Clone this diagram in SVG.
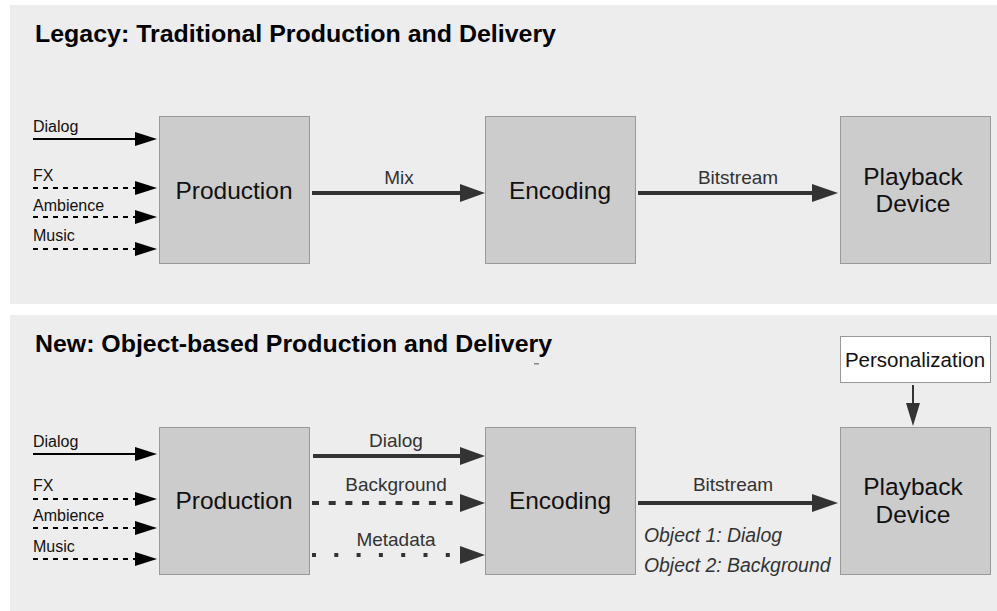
<svg xmlns="http://www.w3.org/2000/svg" width="997" height="611" viewBox="0 0 997 611">
<style>
.panel{fill:#ededed}
.box{fill:#cccccc;stroke:#999999;stroke-width:1}
.wbox{fill:#ffffff;stroke:#999999;stroke-width:1}
.title{font-family:"Liberation Sans",Arial,sans-serif;font-weight:bold;font-size:23px;fill:#000}
.node{font-family:"Liberation Sans",Arial,sans-serif;font-size:24.5px;fill:#111;text-anchor:middle}
.inlab{font-family:"Liberation Sans",Arial,sans-serif;font-size:16px;fill:#111}
.clab{font-family:"Liberation Sans",Arial,sans-serif;font-size:19px;fill:#333;text-anchor:middle}
.obj{font-family:"Liberation Sans",Arial,sans-serif;font-size:19.4px;font-style:italic;fill:#333}
.in{stroke:#000;stroke-width:2;fill:none}
.dash{stroke-dasharray:5 5}
.main{stroke:#333;stroke-width:4;fill:none}
.bg{stroke-dasharray:7 9.7}
.dot{stroke-dasharray:4 18.3}
.headb{fill:#000}
.headm{fill:#333}
</style>
<rect x="0" y="0" width="997" height="611" fill="#ffffff"/>
<rect class="panel" x="10" y="5" width="987" height="299"/>
<rect class="panel" x="10" y="315" width="987" height="296"/>
<text class="title" x="35" y="42" textLength="521" lengthAdjust="spacingAndGlyphs">Legacy: Traditional Production and Delivery</text>
<text class="title" x="35" y="352" textLength="517" lengthAdjust="spacingAndGlyphs">New: Object-based Production and Delivery</text>
<rect x="534" y="363" width="5" height="1.5" fill="#888888"/>

<g id="connectors">
  <line class="in" x1="33" y1="139" x2="137" y2="139"/>
  <polygon class="headb" points="135,132 157,139 135,146"/>
  <line class="in dash" x1="33" y1="188" x2="137" y2="188"/>
  <polygon class="headb" points="135,181 157,188 135,195"/>
  <line class="in dash" x1="33" y1="217" x2="137" y2="217"/>
  <polygon class="headb" points="135,210 157,217 135,224"/>
  <line class="in dash" x1="33" y1="249" x2="137" y2="249"/>
  <polygon class="headb" points="135,242 157,249 135,256"/>
  <line class="main" x1="312" y1="193" x2="462" y2="193"/>
  <polygon class="headm" points="460,184 485,193 460,202"/>
  <line class="main" x1="638" y1="193" x2="815" y2="193"/>
  <polygon class="headm" points="812,184 838,193 812,202"/>
  <line class="in" x1="33" y1="454" x2="137" y2="454"/>
  <polygon class="headb" points="135,447 157,454 135,461"/>
  <line class="in dash" x1="33" y1="499" x2="137" y2="499"/>
  <polygon class="headb" points="135,492 157,499 135,506"/>
  <line class="in dash" x1="33" y1="528" x2="137" y2="528"/>
  <polygon class="headb" points="135,521 157,528 135,535"/>
  <line class="in dash" x1="33" y1="559" x2="137" y2="559"/>
  <polygon class="headb" points="135,552 157,559 135,566"/>
  <line class="main" x1="313" y1="456" x2="462" y2="456"/>
  <polygon class="headm" points="460,447 485,456 460,465"/>
  <line class="main bg" x1="312" y1="503" x2="458" y2="503"/>
  <polygon class="headm" points="460,494 485,503 460,512"/>
  <line class="main dot" x1="312" y1="555" x2="458" y2="555"/>
  <polygon class="headm" points="460,546 485,555 460,564"/>
  <line class="main" x1="638" y1="503" x2="815" y2="503"/>
  <polygon class="headm" points="812,494 838,503 812,512"/>
  <line stroke="#333" stroke-width="2" x1="913" y1="385" x2="913" y2="405"/>
  <polygon class="headm" points="906,403 913,426 920,403"/>
  <text class="inlab" x="33" y="132">Dialog</text>
  <text class="inlab" x="33" y="181">FX</text>
  <text class="inlab" x="33" y="211">Ambience</text>
  <text class="inlab" x="33" y="241">Music</text>
  <text class="clab" x="399" y="184">Mix</text>
  <text class="clab" x="738" y="184">Bitstream</text>
  <text class="inlab" x="33" y="447">Dialog</text>
  <text class="inlab" x="33" y="491">FX</text>
  <text class="inlab" x="33" y="521">Ambience</text>
  <text class="inlab" x="33" y="552">Music</text>
  <text class="clab" x="396" y="447">Dialog</text>
  <text class="clab" x="396" y="491">Background</text>
  <text class="clab" x="396" y="546">Metadata</text>
  <text class="clab" x="733" y="491">Bitstream</text>
  <text class="obj" x="644" y="542">Object 1: Dialog</text>
  <text class="obj" x="644" y="572">Object 2: Background</text>
</g>

<g id="legacy-production">
  <rect class="box" x="159.5" y="116.5" width="150" height="147"/>
  <text class="node" x="234" y="199">Production</text>
</g>
<g id="legacy-encoding">
  <rect class="box" x="485.5" y="116.5" width="150" height="147"/>
  <text class="node" x="560" y="199">Encoding</text>
</g>
<g id="legacy-playback">
  <rect class="box" x="840.5" y="116.5" width="150" height="147"/>
  <text class="node" x="913" y="185">Playback</text>
  <text class="node" x="913" y="212">Device</text>
</g>
<g id="new-production">
  <rect class="box" x="159.5" y="427.5" width="150" height="147"/>
  <text class="node" x="234" y="509">Production</text>
</g>
<g id="new-encoding">
  <rect class="box" x="485.5" y="427.5" width="150" height="147"/>
  <text class="node" x="560" y="509">Encoding</text>
</g>
<g id="new-playback">
  <rect class="box" x="840.5" y="427.5" width="150" height="147"/>
  <text class="node" x="913" y="495">Playback</text>
  <text class="node" x="913" y="523">Device</text>
</g>
<g id="personalization">
  <rect class="wbox" x="840.5" y="336.5" width="150" height="46"/>
  <text class="node" x="915" y="367" style="font-size:20.5px">Personalization</text>
</g>
</svg>
